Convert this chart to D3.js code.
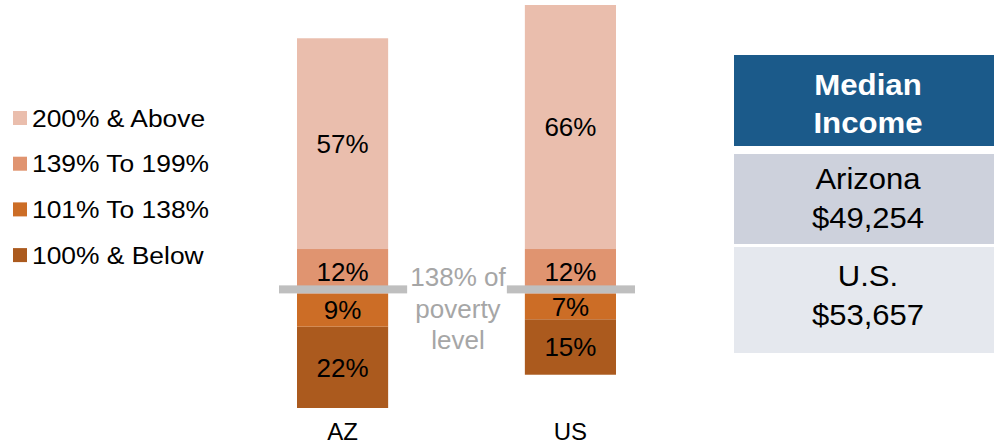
<!DOCTYPE html>
<html>
<head>
<meta charset="utf-8">
<script src="https://cdn.jsdelivr.net/npm/d3@7"></script>
<style>
  body { margin: 0; background: #fff; }
  svg { display: block; font-family: "Liberation Sans", Arial, sans-serif; }
</style>
</head>
<body>
<svg id="chart" width="994" height="446"></svg>
<script>
// data
const categories = ["AZ", "US"];
const seriesKeys = ["below100", "from101to138", "from139to199", "above200"];
const seriesNames = ["100% & Below", "101% To 138%", "139% To 199%", "200% & Above"];
const below100 = [22, 15];
const from101to138 = [9, 7];
const from139to199 = [12, 12];
const above200 = [57, 66];
const povertyNote = ["138% of", "poverty", "level"];
const tableHeader = ["Median", "Income"];
const tableRows = [["Arizona", "$49,254"], ["U.S.", "$53,657"]];

const colors = ["#ab5a1e", "#cc6d26", "#e09470", "#eabead"];

const rows = categories.map((c, i) => ({
  cat: c,
  below100: below100[i],
  from101to138: from101to138[i],
  from139to199: from139to199[i],
  above200: above200[i]
}));

// stack, then shift each bar so the 138% boundary sits at 0
const stacked = d3.stack().keys(seriesKeys)(rows);
const shift = rows.map(r => r.below100 + r.from101to138);
stacked.forEach(layer => layer.forEach((d, i) => { d[0] -= shift[i]; d[1] -= shift[i]; }));

const yMin = d3.min(stacked[0], d => d[0]);
const yMax = d3.max(stacked[stacked.length - 1], d => d[1]);

const svg = d3.select("#chart");

const x = d3.scaleBand().domain(categories).range([297, 616]).paddingInner(0.6).paddingOuter(0);
const y = d3.scaleLinear().domain([yMin, yMax]).range([408, 5]);
const color = d3.scaleOrdinal().domain(seriesKeys).range(colors);

// the source picture is a little wider than tall, so text gets a slight x-stretch
const stretch = (sel, px, py, sx) => sel.attr("transform", "translate(" + px + "," + py + ") scale(" + sx + ",1)");

// bars
const layers = svg.append("g").attr("class", "bars")
  .selectAll("g").data(stacked).enter().append("g")
  .attr("fill", d => color(d.key));

layers.selectAll("rect").data(d => d).enter().append("rect")
  .attr("x", d => x(d.data.cat))
  .attr("width", x.bandwidth())
  .attr("y", d => y(d[1]))
  .attr("height", d => y(d[0]) - y(d[1]));

layers.selectAll("text").data(d => d.map(v => ({ key: d.key, v: v }))).enter()
  .append("text")
  .attr("x", d => x(d.v.data.cat) + x.bandwidth() / 2)
  .attr("y", d => (y(d.v[0]) + y(d.v[1])) / 2)
  .attr("dy", "0.36em")
  .attr("text-anchor", "middle")
  .attr("fill", "#000")
  .style("font-size", "26px")
  .text(d => d.v.data[d.key] + "%");

// 138% poverty line marks
svg.append("g").attr("class", "lines")
  .selectAll("rect").data(categories).enter().append("rect")
  .attr("x", d => x(d) - 18)
  .attr("width", x.bandwidth() + 37)
  .attr("y", y(0) - 8)
  .attr("height", 8)
  .attr("fill", "#bfbfbf");

svg.append("text")
  .attr("x", 458)
  .attr("y", 286)
  .attr("text-anchor", "middle")
  .attr("fill", "#a6a6a6")
  .style("font-size", "26px")
  .selectAll("tspan").data(povertyNote).enter().append("tspan")
  .attr("x", 458)
  .attr("dy", (d, i) => i === 0 ? 0 : 31.5)
  .text(d => d);

// category axis
const xAxis = svg.append("g").attr("transform", "translate(0,440)")
  .call(d3.axisBottom(x).tickSize(0).tickPadding(0));
xAxis.select(".domain").remove();
xAxis.selectAll("text")
  .attr("dy", 0)
  .attr("fill", "#000")
  .style("font-size", "24px")
  .style("font-family", "Liberation Sans, Arial, sans-serif");

// legend
const legendOrder = seriesKeys.slice().reverse();
const legend = svg.append("g").attr("class", "legend")
  .selectAll("g").data(legendOrder).enter().append("g")
  .attr("transform", (d, i) => "translate(13," + (111 + i * 45.7) + ")");
legend.append("rect").attr("width", 14).attr("height", 14).attr("fill", d => color(d));
legend.append("text")
  .call(stretch, 19, 15.5, 1.1)
  .attr("fill", "#000")
  .style("font-size", "24px")
  .text(d => seriesNames[seriesKeys.indexOf(d)]);

// median income table
const table = svg.append("g").attr("class", "table");
const cx = 868;
table.append("rect").attr("x", 734).attr("y", 55).attr("width", 260).attr("height", 91).attr("fill", "#1b5a8a");
table.append("rect").attr("x", 734).attr("y", 154).attr("width", 260).attr("height", 90).attr("fill", "#cdd1dc");
table.append("rect").attr("x", 734).attr("y", 247).attr("width", 260).attr("height", 106).attr("fill", "#e5e8ee");

tableHeader.forEach((t, i) => {
  table.append("text")
    .call(stretch, cx, 95 + i * 38, 1.04)
    .attr("text-anchor", "middle")
    .attr("fill", "#fff")
    .style("font-size", "30px")
    .style("font-weight", "bold")
    .text(t);
});

const rowTop = [189, 286];
tableRows.forEach((r, j) => {
  r.forEach((t, i) => {
    table.append("text")
      .call(stretch, cx, rowTop[j] + i * 39, 1.07)
      .attr("text-anchor", "middle")
      .attr("fill", "#000")
      .style("font-size", "29px")
      .text(t);
  });
});
</script>
</body>
</html>
